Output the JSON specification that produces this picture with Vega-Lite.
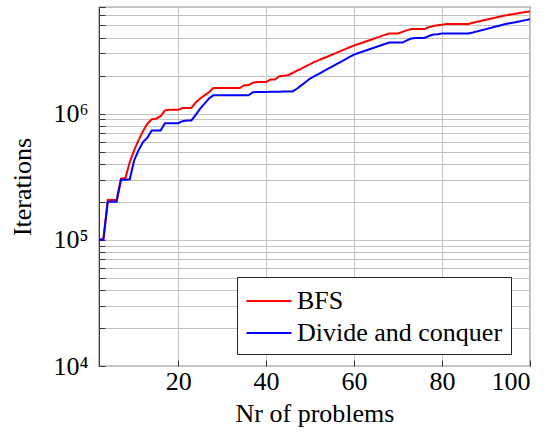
{
  "$schema": "https://vega.github.io/schema/vega-lite/v6.json",
  "width": 431,
  "height": 359,
  "autosize": {"type": "none"},
  "padding": {"left": 99, "top": 7, "right": 22, "bottom": 68},
  "background": "white",
  "config": {
    "font": "Liberation Serif",
    "view": {"stroke": "#262626", "strokeWidth": 1.2},
    "axis": {"labelFont": "Liberation Serif", "titleFont": "Liberation Serif", "labelColor": "black", "titleColor": "black", "titleFontWeight": "normal", "labelFontSize": 26, "titleFontSize": 26, "gridColor": "#c4c4c4", "gridWidth": 1, "gridOpacity": 1, "domain": false}
  },
  "data": {"values": [
    {"n": 2, "BFS": 100000, "Divide and conquer": 100000},
    {"n": 3, "BFS": 102000, "Divide and conquer": 100000},
    {"n": 4, "BFS": 207000, "Divide and conquer": 200000},
    {"n": 5, "BFS": 207000, "Divide and conquer": 200000},
    {"n": 6, "BFS": 207000, "Divide and conquer": 200000},
    {"n": 7, "BFS": 305000, "Divide and conquer": 299000},
    {"n": 8, "BFS": 309000, "Divide and conquer": 299000},
    {"n": 9, "BFS": 413000, "Divide and conquer": 302000},
    {"n": 10, "BFS": 513000, "Divide and conquer": 427000},
    {"n": 11, "BFS": 617000, "Divide and conquer": 513000},
    {"n": 12, "BFS": 724000, "Divide and conquer": 596000},
    {"n": 13, "BFS": 832000, "Divide and conquer": 646000},
    {"n": 14, "BFS": 902000, "Divide and conquer": 736000},
    {"n": 15, "BFS": 912000, "Divide and conquer": 736000},
    {"n": 16, "BFS": 955000, "Divide and conquer": 736000},
    {"n": 17, "BFS": 1062000, "Divide and conquer": 841000},
    {"n": 18, "BFS": 1072000, "Divide and conquer": 841000},
    {"n": 19, "BFS": 1072000, "Divide and conquer": 841000},
    {"n": 20, "BFS": 1072000, "Divide and conquer": 841000},
    {"n": 21, "BFS": 1109000, "Divide and conquer": 871000},
    {"n": 22, "BFS": 1109000, "Divide and conquer": 883000},
    {"n": 23, "BFS": 1109000, "Divide and conquer": 883000},
    {"n": 24, "BFS": 1225000, "Divide and conquer": 977000},
    {"n": 25, "BFS": 1318000, "Divide and conquer": 1096000},
    {"n": 26, "BFS": 1396000, "Divide and conquer": 1202000},
    {"n": 27, "BFS": 1479000, "Divide and conquer": 1318000},
    {"n": 28, "BFS": 1596000, "Divide and conquer": 1396000},
    {"n": 29, "BFS": 1596000, "Divide and conquer": 1396000},
    {"n": 30, "BFS": 1596000, "Divide and conquer": 1396000},
    {"n": 31, "BFS": 1596000, "Divide and conquer": 1396000},
    {"n": 32, "BFS": 1596000, "Divide and conquer": 1396000},
    {"n": 33, "BFS": 1596000, "Divide and conquer": 1396000},
    {"n": 34, "BFS": 1596000, "Divide and conquer": 1396000},
    {"n": 35, "BFS": 1679000, "Divide and conquer": 1396000},
    {"n": 36, "BFS": 1679000, "Divide and conquer": 1396000},
    {"n": 37, "BFS": 1758000, "Divide and conquer": 1479000},
    {"n": 38, "BFS": 1778000, "Divide and conquer": 1483000},
    {"n": 39, "BFS": 1778000, "Divide and conquer": 1485000},
    {"n": 40, "BFS": 1778000, "Divide and conquer": 1487000},
    {"n": 41, "BFS": 1862000, "Divide and conquer": 1489000},
    {"n": 42, "BFS": 1862000, "Divide and conquer": 1491000},
    {"n": 43, "BFS": 1977000, "Divide and conquer": 1493000},
    {"n": 44, "BFS": 1995000, "Divide and conquer": 1495000},
    {"n": 45, "BFS": 2018000, "Divide and conquer": 1497000},
    {"n": 46, "BFS": 2099000, "Divide and conquer": 1500000},
    {"n": 47, "BFS": 2188000, "Divide and conquer": 1574000},
    {"n": 48, "BFS": 2275000, "Divide and conquer": 1675000},
    {"n": 49, "BFS": 2371000, "Divide and conquer": 1782000},
    {"n": 50, "BFS": 2466000, "Divide and conquer": 1897000},
    {"n": 51, "BFS": 2570000, "Divide and conquer": 1982000},
    {"n": 52, "BFS": 2655000, "Divide and conquer": 2070000},
    {"n": 53, "BFS": 2748000, "Divide and conquer": 2163000},
    {"n": 54, "BFS": 2838000, "Divide and conquer": 2259000},
    {"n": 55, "BFS": 2938000, "Divide and conquer": 2360000},
    {"n": 56, "BFS": 3034000, "Divide and conquer": 2466000},
    {"n": 57, "BFS": 3141000, "Divide and conquer": 2576000},
    {"n": 58, "BFS": 3243000, "Divide and conquer": 2692000},
    {"n": 59, "BFS": 3357000, "Divide and conquer": 2812000},
    {"n": 60, "BFS": 3467000, "Divide and conquer": 2938000},
    {"n": 61, "BFS": 3565000, "Divide and conquer": 3020000},
    {"n": 62, "BFS": 3664000, "Divide and conquer": 3105000},
    {"n": 63, "BFS": 3767000, "Divide and conquer": 3192000},
    {"n": 64, "BFS": 3873000, "Divide and conquer": 3281000},
    {"n": 65, "BFS": 3981000, "Divide and conquer": 3373000},
    {"n": 66, "BFS": 4093000, "Divide and conquer": 3467000},
    {"n": 67, "BFS": 4207000, "Divide and conquer": 3565000},
    {"n": 68, "BFS": 4315000, "Divide and conquer": 3656000},
    {"n": 69, "BFS": 4315000, "Divide and conquer": 3656000},
    {"n": 70, "BFS": 4315000, "Divide and conquer": 3656000},
    {"n": 71, "BFS": 4446000, "Divide and conquer": 3656000},
    {"n": 72, "BFS": 4571000, "Divide and conquer": 3802000},
    {"n": 73, "BFS": 4677000, "Divide and conquer": 3936000},
    {"n": 74, "BFS": 4677000, "Divide and conquer": 3981000},
    {"n": 75, "BFS": 4677000, "Divide and conquer": 3981000},
    {"n": 76, "BFS": 4677000, "Divide and conquer": 3981000},
    {"n": 77, "BFS": 4842000, "Divide and conquer": 4121000},
    {"n": 78, "BFS": 4955000, "Divide and conquer": 4236000},
    {"n": 79, "BFS": 5012000, "Divide and conquer": 4266000},
    {"n": 80, "BFS": 5070000, "Divide and conquer": 4315000},
    {"n": 81, "BFS": 5129000, "Divide and conquer": 4315000},
    {"n": 82, "BFS": 5129000, "Divide and conquer": 4315000},
    {"n": 83, "BFS": 5129000, "Divide and conquer": 4315000},
    {"n": 84, "BFS": 5129000, "Divide and conquer": 4315000},
    {"n": 85, "BFS": 5129000, "Divide and conquer": 4315000},
    {"n": 86, "BFS": 5129000, "Divide and conquer": 4315000},
    {"n": 87, "BFS": 5248000, "Divide and conquer": 4395000},
    {"n": 88, "BFS": 5346000, "Divide and conquer": 4487000},
    {"n": 89, "BFS": 5445000, "Divide and conquer": 4581000},
    {"n": 90, "BFS": 5546000, "Divide and conquer": 4677000},
    {"n": 91, "BFS": 5649000, "Divide and conquer": 4775000},
    {"n": 92, "BFS": 5754000, "Divide and conquer": 4875000},
    {"n": 93, "BFS": 5861000, "Divide and conquer": 4977000},
    {"n": 94, "BFS": 5970000, "Divide and conquer": 5082000},
    {"n": 95, "BFS": 6053000, "Divide and conquer": 5176000},
    {"n": 96, "BFS": 6138000, "Divide and conquer": 5248000},
    {"n": 97, "BFS": 6209000, "Divide and conquer": 5333000},
    {"n": 98, "BFS": 6295000, "Divide and conquer": 5420000},
    {"n": 99, "BFS": 6383000, "Divide and conquer": 5508000},
    {"n": 100, "BFS": 6457000, "Divide and conquer": 5598000}
  ]},
  "transform": [{"fold": ["BFS", "Divide and conquer"], "as": ["series", "iterations"]}],
  "mark": {"type": "line", "strokeWidth": 2, "clip": true},
  "encoding": {
    "x": {
      "field": "n", "type": "quantitative",
      "scale": {"domain": [2, 100], "nice": false, "zero": false},
      "axis": {"title": "Nr of problems", "values": [20, 40, 60, 80, 100], "grid": true, "tickSize": -6, "tickColor": "#333333", "labelPadding": 8, "titlePadding": 6}
    },
    "y": {
      "field": "iterations", "type": "quantitative",
      "scale": {"type": "log", "domain": [10000, 7000000], "nice": false},
      "axis": {
        "title": "Iterations",
        "values": [10000, 20000, 30000, 40000, 50000, 60000, 70000, 80000, 90000, 100000, 200000, 300000, 400000, 500000, 600000, 700000, 800000, 900000, 1000000, 2000000, 3000000, 4000000, 5000000, 6000000, 7000000],
        "labelExpr": "abs(log(datum.value)/LN10 - 4) < 0.001 ? '10⁴' : abs(log(datum.value)/LN10 - 5) < 0.001 ? '10⁵' : abs(log(datum.value)/LN10 - 6) < 0.001 ? '10⁶' : ''",
        "grid": true, "tickSize": -6, "tickColor": "#333333", "labelPadding": 17, "titlePadding": 17
      }
    },
    "color": {
      "field": "series", "type": "nominal",
      "scale": {"domain": ["BFS", "Divide and conquer"], "range": ["#ff0000", "#0000ff"]},
      "legend": {
        "title": null, "orient": "none", "legendX": 138, "legendY": 270,
        "symbolType": "M-1.5,0H1.5", "symbolSize": 900, "symbolStrokeWidth": 2, "symbolOffset": 8,
        "labelFontSize": 26, "labelFont": "Liberation Serif", "labelColor": "black", "labelLimit": 400,
        "labelOffset": 12, "rowPadding": 3, "padding": 8,
        "strokeColor": "#222222", "fillColor": "white"
      }
    }
  }
}
